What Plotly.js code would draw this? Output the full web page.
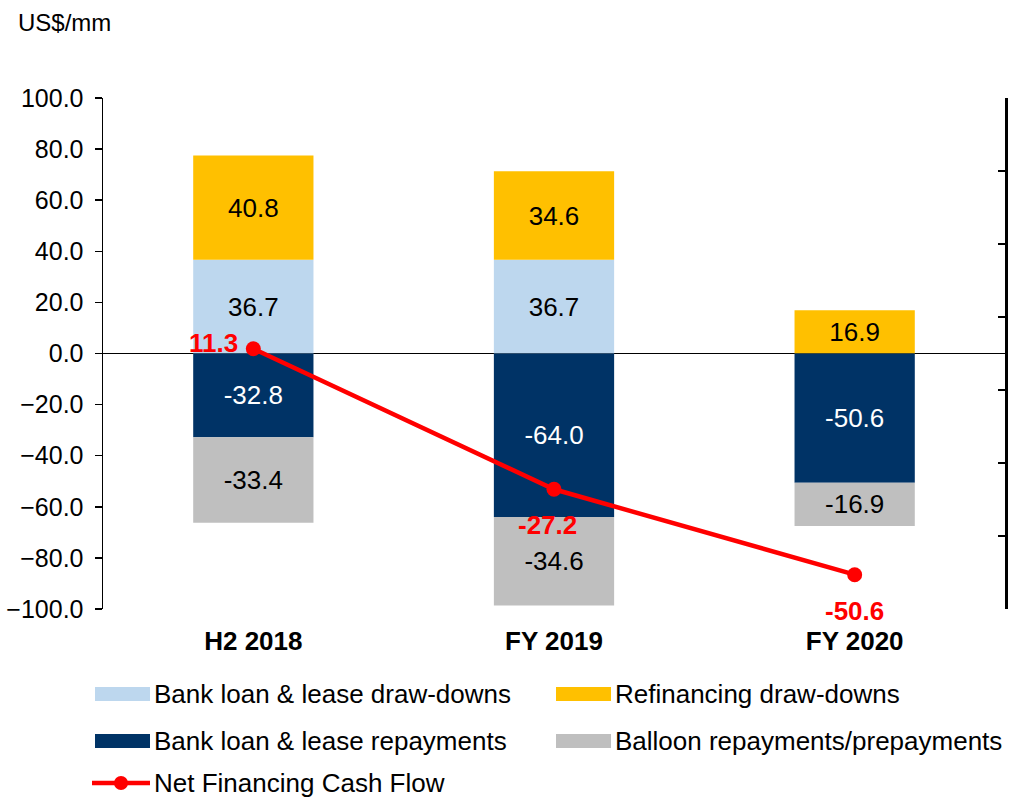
<!DOCTYPE html>
<html>
<head>
<meta charset="utf-8">
<script src="https://cdn.plot.ly/plotly-3.0.1.min.js"></script>
<style>html,body{margin:0;padding:0;background:#fff;}#chart{width:1013px;height:797px;}</style>
</head>
<body>
<div id="chart"></div>
<script>
const categories = ["H2 2018", "FY 2019", "FY 2020"];
const bankDrawdowns = [36.7, 36.7, null];
const refinancingDrawdowns = [40.8, 34.6, 16.9];
const bankRepayments = [-32.8, -64.0, -50.6];
const balloonRepayments = [-33.4, -34.6, -16.9];
const netFinancing = [11.3, -27.2, -50.6];
const yTicks = [-100, -80, -60, -40, -20, 0, 20, 40, 60, 80, 100];
const seriesNames = ["Bank loan & lease draw-downs", "Refinancing draw-downs",
  "Bank loan & lease repayments", "Balloon repayments/prepayments", "Net Financing Cash Flow"];
const seriesColors = ["#BDD7EE", "#FFC000", "#003366", "#BFBFBF", "#FF0000"];

const FONT = "Arial, 'Liberation Sans', sans-serif";
const FS = 26;

// plot area in pixels
const W = 1013, H = 797, L = 103, R = 8, T = 98, B = 188;
const PW = W - L - R, PH = H - T - B;
const px = x => (x - L) / PW;          // pixel -> paper x
const py = y => (T + PH - y) / PH;     // pixel -> paper y

function barTrace(i, values, textColor) {
  return {
    type: "bar", name: seriesNames[i], x: categories, y: values,
    marker: {color: seriesColors[i], line: {width: 0}},
    width: 0.4,
    texttemplate: "%{y:.1f}", textposition: "inside", insidetextanchor: "middle",
    textangle: 0, constraintext: "none",
    textfont: {family: FONT, size: FS, color: textColor},
    hoverinfo: "skip", showlegend: false
  };
}

const traces = [
  barTrace(0, bankDrawdowns, "#000000"),
  barTrace(1, refinancingDrawdowns, "#000000"),
  barTrace(2, bankRepayments, "#FFFFFF"),
  barTrace(3, balloonRepayments, "#000000"),
  {
    type: "scatter", mode: "lines+markers", name: seriesNames[4],
    x: categories, y: netFinancing, yaxis: "y2",
    line: {color: seriesColors[4], width: 4.5}, marker: {color: seriesColors[4], size: 15},
    showlegend: false, hoverinfo: "skip"
  }
];

const labelShift = [{xs: -40, ys: 6}, {xs: -7, ys: -36}, {xs: 0, ys: -36}];
const annotations = netFinancing.map((v, i) => ({
  x: categories[i], y: v, xref: "x", yref: "y2",
  text: "<b>" + v.toFixed(1) + "</b>", showarrow: false,
  xshift: labelShift[i].xs, yshift: labelShift[i].ys,
  font: {family: FONT, size: FS, color: "#FF0000"}
}));
annotations.push({
  x: px(16), y: py(22), xref: "paper", yref: "paper", xanchor: "left", yanchor: "middle",
  text: "US$/mm", showarrow: false,
  font: {family: FONT, size: 24, color: "#000000"}
});

// custom legend (swatches drawn as shapes in paper coordinates)
const legendPos = [
  {sx: 95, tx: 152, y: 694}, {sx: 556, tx: 613, y: 694},
  {sx: 95, tx: 152, y: 741}, {sx: 556, tx: 613, y: 741},
  {sx: 92, tx: 152, y: 783}
];
const shapes = [];
legendPos.forEach((p, i) => {
  annotations.push({
    x: px(p.tx), y: py(p.y), xref: "paper", yref: "paper",
    xanchor: "left", yanchor: "middle", text: seriesNames[i], showarrow: false,
    font: {family: FONT, size: FS, color: "#000000"}
  });
  if (i < 4) {
    shapes.push({type: "rect", xref: "paper", yref: "paper",
      x0: px(p.sx), x1: px(p.sx + 55), y0: py(p.y - 7), y1: py(p.y + 7),
      fillcolor: seriesColors[i], line: {width: 0}});
  } else {
    shapes.push({type: "line", xref: "paper", yref: "paper",
      x0: px(p.sx), x1: px(p.sx + 58), y0: py(p.y), y1: py(p.y),
      line: {color: seriesColors[i], width: 4.5}});
    shapes.push({type: "circle", xref: "paper", yref: "paper",
      x0: px(p.sx + 22), x1: px(p.sx + 36), y0: py(p.y - 7), y1: py(p.y + 7),
      fillcolor: seriesColors[i], line: {width: 0}});
  }
});

const layout = {
  width: W, height: H,
  margin: {l: L, r: R, t: T, b: B, autoexpand: false},
  paper_bgcolor: "#FFFFFF", plot_bgcolor: "#FFFFFF",
  barmode: "relative",
  font: {family: FONT, size: FS, color: "#000000"},
  showlegend: false,
  xaxis: {
    type: "category", showline: false, ticks: "", showgrid: false, zeroline: false,
    tickfont: {family: FONT, size: FS, color: "#000000", weight: "bold"},
    ticklabelstandoff: 14, fixedrange: true
  },
  yaxis: {
    range: [-100, 100], tickvals: yTicks, tickformat: ".1f",
    showline: true, linecolor: "#000000", linewidth: 1.5,
    ticks: "outside", ticklen: 7, tickcolor: "#000000", tickwidth: 1.5,
    showgrid: false, zeroline: true, zerolinecolor: "#000000", zerolinewidth: 1.5,
    tickfont: {family: FONT, size: 25, color: "#000000"}, ticklabelstandoff: 6
  },
  yaxis2: {
    overlaying: "y", side: "right", range: [-60, 80], dtick: 20,
    showticklabels: false, ticks: "inside", ticklen: 7, tickcolor: "#000000", tickwidth: 2,
    showline: true, linecolor: "#000000", linewidth: 2.5,
    showgrid: false, zeroline: false
  },
  shapes: shapes,
  annotations: annotations
};

Plotly.newPlot("chart", traces, layout, {displayModeBar: false, staticPlot: true});
</script>
</body>
</html>
